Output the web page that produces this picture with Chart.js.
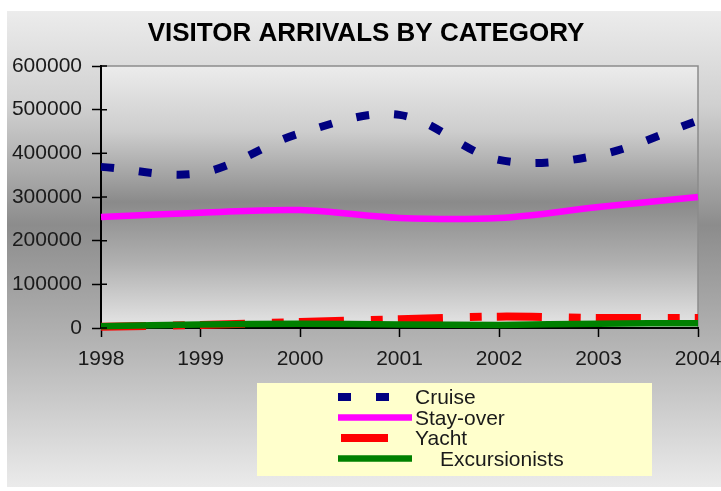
<!DOCTYPE html>
<html>
<head>
<meta charset="utf-8">
<title>Visitor Arrivals by Category</title>
<script src="https://cdn.jsdelivr.net/npm/chart.js@4.4.1/dist/chart.umd.min.js"></script>
<style>
  html, body { margin: 0; padding: 0; background: #fff; overflow: hidden; }
  canvas { display: block; }
</style>
</head>
<body>
<canvas id="chart" width="721" height="491"></canvas>
<script>
// values
const years = ['1998', '1999', '2000', '2001', '2002', '2003', '2004'];
const cruise = [369000, 355000, 446000, 488000, 385000, 396000, 475000];
const stayOver = [254000, 264000, 270000, 252000, 252000, 277000, 300000];
const yacht = [3000, 7000, 14000, 20000, 26000, 23000, 23000];
const excursionists = [4000, 8000, 10000, 8000, 7000, 10000, 11000];
const yTicks = [0, 100000, 200000, 300000, 400000, 500000, 600000];
const chartTitle = 'VISITOR ARRIVALS BY CATEGORY';

const FONT = '"Liberation Sans", Arial, sans-serif';

// grey panel + plot area shading
const backdrop = {
  id: 'backdrop',
  beforeDraw(chart) {
    const { ctx, chartArea: ca } = chart;
    ctx.save();
    ctx.fillStyle = '#fff';
    ctx.fillRect(0, 0, chart.width, chart.height);

    const g = ctx.createLinearGradient(0, 11, 0, 487);
    g.addColorStop(0, '#ececec');
    g.addColorStop(0.2, '#d0d0d0');
    g.addColorStop(0.45, '#8c8c8c');
    g.addColorStop(0.7, '#b4b4b4');
    g.addColorStop(1, '#ebebeb');
    ctx.fillStyle = g;
    ctx.fillRect(7, 11, chart.width - 7, 476);

    const p = ctx.createLinearGradient(0, ca.top, 0, ca.bottom);
    p.addColorStop(0, '#ececec');
    p.addColorStop(0.25, '#cdcdcd');
    p.addColorStop(0.52, '#8a8a8a');
    p.addColorStop(0.75, '#b0b0b0');
    p.addColorStop(1, '#e6e6e6');
    ctx.fillStyle = p;
    ctx.fillRect(ca.left, ca.top, ca.right - ca.left, ca.bottom - ca.top);

    ctx.strokeStyle = '#8c8c8c';
    ctx.lineWidth = 1.5;
    ctx.beginPath();
    ctx.moveTo(ca.left, ca.top);
    ctx.lineTo(ca.right, ca.top);
    ctx.lineTo(ca.right, ca.bottom);
    ctx.stroke();

    // title sits a bit right of the canvas centre in the original
    ctx.fillStyle = '#000';
    ctx.font = 'bold 26px ' + FONT;
    ctx.textAlign = 'center';
    ctx.textBaseline = 'middle';
    ctx.fillText(chartTitle, 366, 34);
    ctx.restore();
  }
};

// short inner ticks on the value axis + the yellow legend box
const extras = {
  id: 'extras',
  afterDraw(chart) {
    const { ctx, chartArea: ca } = chart;
    const ys = chart.scales.y;
    ctx.save();
    ctx.strokeStyle = '#000';
    ctx.lineWidth = 1.5;
    ctx.beginPath();
    ys.ticks.forEach(t => {
      const py = ys.getPixelForValue(t.value);
      ctx.moveTo(ca.left, py);
      ctx.lineTo(ca.left + 6, py);
    });
    ctx.stroke();

    ctx.fillStyle = '#ffffcc';
    ctx.fillRect(257, 383, 395, 93);
    ctx.font = '21px ' + FONT;
    ctx.textBaseline = 'middle';
    chart.data.datasets.forEach((ds, i) => {
      const y = 398.5 + i * 20.5;
      const x0 = i === 2 ? 341 : 338;
      const x1 = i === 2 ? 388 : 412;
      ctx.beginPath();
      ctx.strokeStyle = ds.borderColor;
      ctx.lineWidth = ds.borderWidth;
      ctx.setLineDash(i === 2 ? [] : (ds.borderDash || []));
      ctx.moveTo(x0, y - 1.5);
      ctx.lineTo(x1, y - 1.5);
      ctx.stroke();
      ctx.setLineDash([]);
      ctx.fillStyle = '#1a1a1a';
      ctx.fillText(ds.label, i === 3 ? 440 : 415, y);
    });
    ctx.restore();
  }
};

new Chart(document.getElementById('chart'), {
  type: 'line',
  data: {
    labels: years,
    datasets: [
      { label: 'Cruise', data: cruise, borderColor: '#000080', borderWidth: 8, borderDash: [13, 25] },
      { label: 'Stay-over', data: stayOver, borderColor: '#ff00ff', borderWidth: 6.5 },
      { label: 'Yacht', data: yacht, borderColor: '#ff0000', borderWidth: 8, borderDash: [45, 27, 12, 15], order: 1 },
      { label: 'Excursionists', data: excursionists, borderColor: '#008000', borderWidth: 6.5 }
    ]
  },
  options: {
    responsive: false,
    animation: false,
    devicePixelRatio: 1,
    layout: { padding: { left: 0, right: 0, top: 66, bottom: 108.8 } },
    elements: {
      line: { tension: 0.35, fill: false, borderCapStyle: 'butt' },
      point: { radius: 0, hoverRadius: 0 }
    },
    datasets: { line: { clip: false } },
    plugins: {
      legend: { display: false },
      tooltip: { enabled: false },
      title: { display: false }
    },
    scales: {
      x: {
        type: 'category',
        offset: false,
        afterFit: scale => { scale.paddingLeft = 0; scale.paddingRight = 23; },
        grid: { drawOnChartArea: false, drawTicks: true, tickLength: 9, tickColor: '#000', tickWidth: 1.5 },
        border: { display: true, color: '#000', width: 2 },
        ticks: { color: '#1a1a1a', padding: 10, maxRotation: 0, autoSkip: false, font: { family: FONT, size: 21 } }
      },
      y: {
        min: 0,
        max: 600000,
        afterBuildTicks: scale => { scale.ticks = yTicks.map(v => ({ value: v })); },
        afterFit: scale => { scale.width = 101; },
        grid: { drawOnChartArea: false, drawTicks: true, tickLength: 9, tickColor: '#000', tickWidth: 1.5 },
        border: { display: true, color: '#000', width: 2 },
        ticks: { color: '#1a1a1a', padding: 10, font: { family: FONT, size: 21 }, callback: v => String(v) }
      }
    }
  },
  plugins: [backdrop, extras]
});
</script>
</body>
</html>
